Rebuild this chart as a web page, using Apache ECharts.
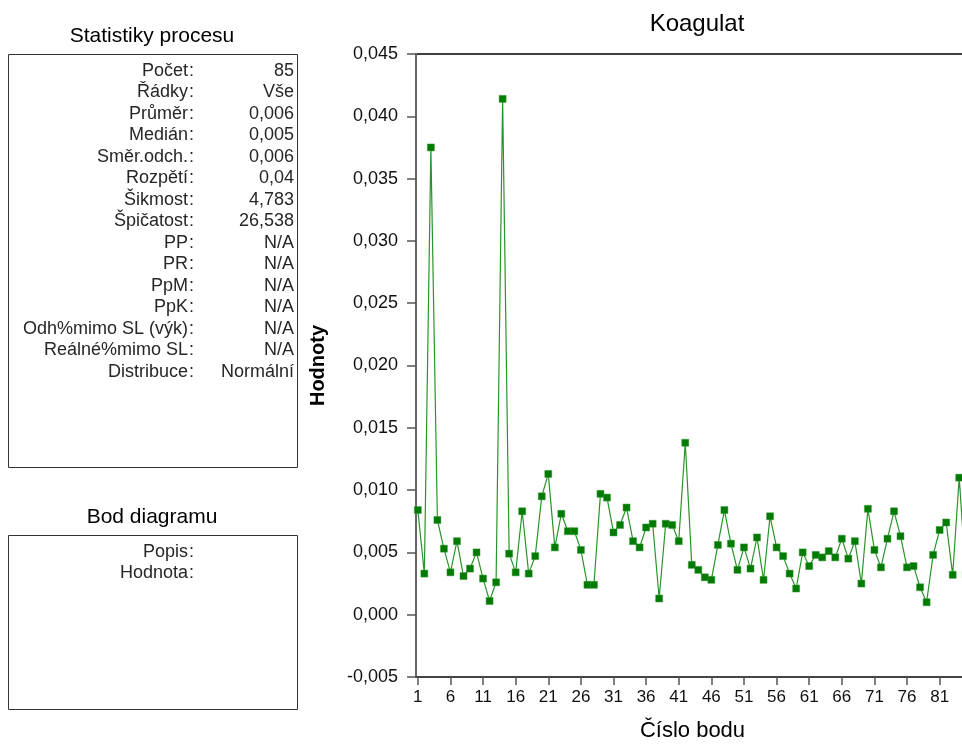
<!DOCTYPE html>
<html>
<head>
<meta charset="utf-8">
<title>Koagulat</title>
<script src="https://cdn.jsdelivr.net/npm/echarts@6/dist/echarts.min.js"></script>
<style>
  html, body { margin: 0; padding: 0; background: #fff; }
  #chart { width: 962px; height: 745px; }
</style>
</head>
<body>
<div id="chart"></div>
<script>
// Measured values, in order of point number (1..85)
const koagulat = [
  0.0084, 0.0033, 0.0375, 0.0076, 0.0053, 0.0034, 0.0059, 0.0031, 0.0037, 0.0050,
  0.0029, 0.0011, 0.0026, 0.0414, 0.0049, 0.0034, 0.0083, 0.0033, 0.0047, 0.0095,
  0.0113, 0.0054, 0.0081, 0.0067, 0.0067, 0.0052, 0.0024, 0.0024, 0.0097, 0.0094,
  0.0066, 0.0072, 0.0086, 0.0059, 0.0054, 0.0070, 0.0073, 0.0013, 0.0073, 0.0072,
  0.0059, 0.0138, 0.0040, 0.0036, 0.0030, 0.0028, 0.0056, 0.0084, 0.0057, 0.0036,
  0.0054, 0.0037, 0.0062, 0.0028, 0.0079, 0.0054, 0.0047, 0.0033, 0.0021, 0.0050,
  0.0039, 0.0048, 0.0046, 0.0051, 0.0046, 0.0061, 0.0045, 0.0059, 0.0025, 0.0085,
  0.0052, 0.0038, 0.0061, 0.0083, 0.0063, 0.0038, 0.0039, 0.0022, 0.0010, 0.0048,
  0.0068, 0.0074, 0.0032, 0.0110, 0.0032
];

// Tick labels of the point-number axis
const xTickValues = [1, 6, 11, 16, 21, 26, 31, 36, 41, 46, 51, 56, 61, 66, 71, 76, 81];

// Value axis range
const yMin = -0.005;
const yMax = 0.045;
const yStep = 0.005;

// Process statistics panel
const statLabels = ['Počet', 'Řádky', 'Průměr', 'Medián', 'Směr.odch.', 'Rozpětí', 'Šikmost',
  'Špičatost', 'PP', 'PR', 'PpM', 'PpK', 'Odh%mimo SL (výk)', 'Reálné%mimo SL', 'Distribuce'];
const statValues = ['85', 'Vše', '0,006', '0,005', '0,006', '0,04', '4,783',
  '26,538', 'N/A', 'N/A', 'N/A', 'N/A', 'N/A', 'N/A', 'Normální'];

// Selected-point panel
const pointLabels = ['Popis', 'Hodnota'];

const FONT = "'Liberation Sans', Arial, sans-serif";
const chart = echarts.init(document.getElementById('chart'), null, { renderer: 'canvas' });

function fmt(v) {
  const r = Math.round(v * 1000) / 1000;
  return (Math.abs(r) < 1e-9 ? 0 : r).toFixed(3).replace('.', ',');
}

// Left-hand panels drawn as graphic elements
const graphics = [];
function label(x, y, text, align, size, color) {
  graphics.push({
    type: 'text',
    style: { x: x, y: y, text: text, font: size + 'px ' + FONT, fill: color, align: align, verticalAlign: 'middle' }
  });
}
label(152, 36, 'Statistiky procesu', 'center', 21, '#000');
graphics.push({
  type: 'rect', shape: { x: 8.5, y: 54.5, width: 289, height: 413 },
  style: { fill: 'none', stroke: '#333', lineWidth: 1 }
});
statLabels.forEach((lab, i) => {
  const y = 71 + i * 21.5;
  label(188, y, lab, 'right', 18, '#262626');
  label(189, y, ':', 'left', 18, '#262626');
  label(294, y, statValues[i], 'right', 18, '#262626');
});
label(152, 517, 'Bod diagramu', 'center', 21, '#000');
graphics.push({
  type: 'rect', shape: { x: 8.5, y: 535.5, width: 289, height: 174 },
  style: { fill: 'none', stroke: '#333', lineWidth: 1 }
});
pointLabels.forEach((lab, i) => {
  const y = 552 + i * 21.5;
  label(188, y, lab, 'right', 18, '#262626');
  label(189, y, ':', 'left', 18, '#262626');
});

const option = {
  backgroundColor: '#fff',
  animation: false,
  title: {
    text: 'Koagulat', left: 692, top: 7, textAlign: 'center',
    textStyle: { fontFamily: FONT, fontSize: 24, fontWeight: 'normal', color: '#000' }
  },
  grid: {
    left: 416, top: 54, width: 553, height: 623,
    outerBoundsMode: 'none', containLabel: false,
    show: true, borderColor: '#000', borderWidth: 1.5, backgroundColor: '#fff'
  },
  xAxis: {
    type: 'value', min: 0.72, max: 85.5,
    name: 'Číslo bodu', nameLocation: 'middle', nameGap: 43,
    nameTextStyle: { fontFamily: FONT, fontSize: 22, color: '#000' },
    axisLine: { show: true, onZero: false, lineStyle: { color: '#444', width: 2 } },
    axisTick: { show: true, length: 8, lineStyle: { color: '#555', width: 1.5 }, customValues: xTickValues },
    axisLabel: {
      customValues: xTickValues, margin: 12, fontFamily: FONT, fontSize: 17, color: '#111',
      formatter: v => String(v)
    },
    splitLine: { show: false }
  },
  yAxis: {
    type: 'value', min: yMin, max: yMax, interval: yStep,
    name: 'Hodnoty', nameLocation: 'middle', nameGap: 88, nameRotate: 90,
    nameTextStyle: { fontFamily: FONT, fontSize: 20, fontWeight: 'bold', color: '#000' },
    axisLine: { show: true, onZero: false, lineStyle: { color: '#666', width: 2 } },
    axisTick: { show: true, length: 9, lineStyle: { color: '#555', width: 1.5 } },
    axisLabel: { margin: 18, fontFamily: FONT, fontSize: 18, color: '#111', formatter: fmt },
    splitLine: { show: false }
  },
  series: [{
    type: 'line',
    data: koagulat.map((v, i) => [i + 1, v]),
    symbol: 'rect', symbolSize: 7, showAllSymbol: true,
    lineStyle: { color: '#2a942a', width: 1.2 },
    itemStyle: { color: '#007a00', borderColor: '#3a9a3a', borderWidth: 0.5 },
    clip: false
  }],
  graphic: graphics
};
chart.setOption(option);
</script>
</body>
</html>
